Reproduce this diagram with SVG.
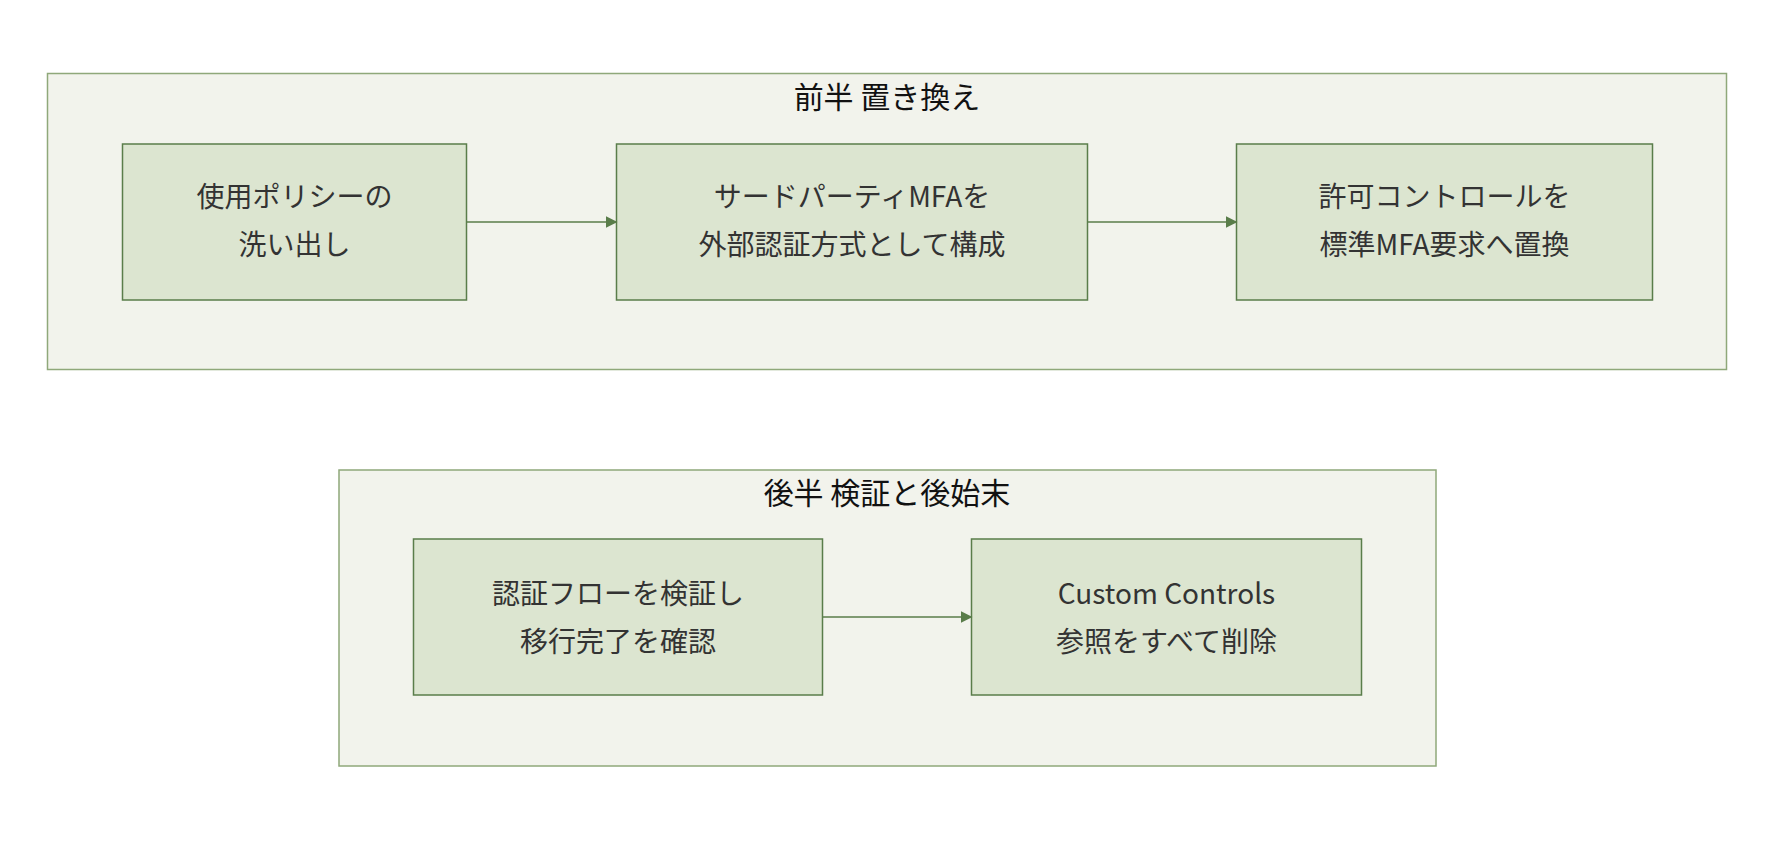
<svg xmlns="http://www.w3.org/2000/svg" width="1776" height="844" viewBox="0 0 1776 844">
<style>
.grp{fill:#f2f3ec;stroke:#8fa87a;stroke-width:1.5}
.node{fill:#dce5d0;stroke:#5a7d4a;stroke-width:1.5}
text{font-family:"Noto Sans CJK JP","Liberation Sans",sans-serif;fill:#333;text-anchor:middle;font-size:28px}
.t{fill:#111;font-size:30px}
.c{stroke:#5a7d4a;stroke-width:1.5;fill:none;marker-end:url(#a)}
</style>
<defs><marker id="a" markerWidth="12" markerHeight="12" refX="11" refY="6" orient="auto" markerUnits="userSpaceOnUse"><path d="M0,0L12,6L0,12z" fill="#5a7d4a"/></marker></defs>
<rect fill="#fff" width="1776" height="844"/>
<g id="g1"><rect class="grp" x="47.5" y="73.5" width="1679" height="296"/><text class="t" x="887" y="108">前半 置き換え</text></g>
<g id="g2"><rect class="grp" x="339" y="470" width="1097" height="296"/><text class="t" x="887" y="504">後半 検証と後始末</text></g>
<g id="n1"><rect class="node" x="122.5" y="144" width="344" height="156"/><text x="294.5" y="207">使用ポリシーの</text><text x="294.5" y="255">洗い出し</text></g>
<g id="n2"><rect class="node" x="616.5" y="144" width="471" height="156"/><text x="852" y="207">サードパーティMFAを</text><text x="852" y="255">外部認証方式として構成</text></g>
<g id="n3"><rect class="node" x="1236.5" y="144" width="416" height="156"/><text x="1444.5" y="207">許可コントロールを</text><text x="1444.5" y="255">標準MFA要求へ置換</text></g>
<g id="n4"><rect class="node" x="413.5" y="539" width="409" height="156"/><text x="618" y="604">認証フローを検証し</text><text x="618" y="652">移行完了を確認</text></g>
<g id="n5"><rect class="node" x="971.5" y="539" width="390" height="156"/><text x="1166.5" y="604">Custom Controls</text><text x="1166.5" y="652">参照をすべて削除</text></g>
<g id="edges">
<path class="c" d="M466.5,222H616.5"/>
<path class="c" d="M1087.5,222H1236.5"/>
<path class="c" d="M822.5,617H971.5"/>
</g>
</svg>
